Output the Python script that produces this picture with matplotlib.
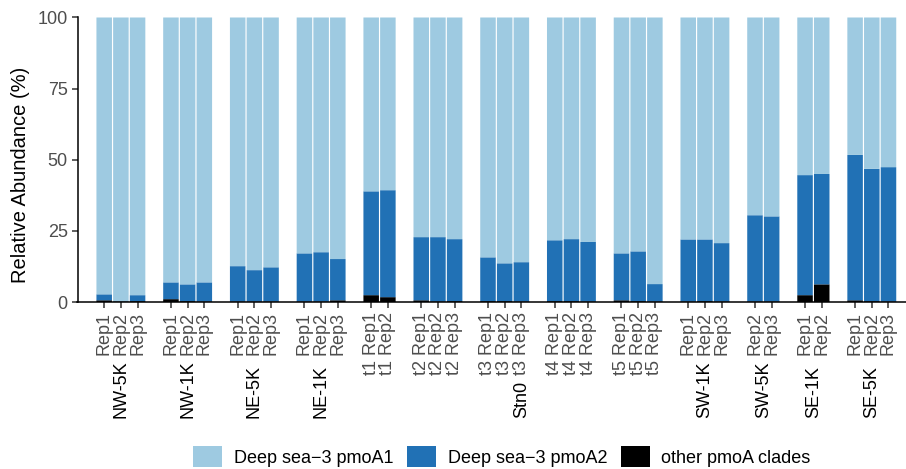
import matplotlib
matplotlib.use("Agg")
import matplotlib.pyplot as plt
from matplotlib.patches import Patch
from matplotlib.transforms import blended_transform_factory
import numpy as np

plt.rcParams['font.family'] = ['Liberation Sans', 'DejaVu Sans']

# ---- data ----
group_names = ["NW-5K", "NW-1K", "NE-5K", "NE-1K", "t1", "t2", "t3", "t4", "t5",
               "SW-1K", "SW-5K", "SE-1K", "SE-5K"]
group_labels = ["NW-5K", "NW-1K", "NE-5K", "NE-1K", "", "", "Stn0", "", "",
                "SW-1K", "SW-5K", "SE-1K", "SE-5K"]
rep_labels = [
    ["Rep1", "Rep2", "Rep3"],
    ["Rep1", "Rep2", "Rep3"],
    ["Rep1", "Rep2", "Rep3"],
    ["Rep1", "Rep2", "Rep3"],
    ["t1 Rep1", "t1 Rep2"],
    ["t2 Rep1", "t2 Rep2", "t2 Rep3"],
    ["t3 Rep1", "t3 Rep2", "t3 Rep3"],
    ["t4 Rep1", "t4 Rep2", "t4 Rep3"],
    ["t5 Rep1", "t5 Rep2", "t5 Rep3"],
    ["Rep1", "Rep2", "Rep3"],
    ["Rep2", "Rep3"],
    ["Rep1", "Rep2"],
    ["Rep1", "Rep2", "Rep3"],
]
other_clades = [
    [0.6, 0.2, 0.3],
    [1.0, 0.3, 0.2],
    [0.2, 0.2, 0.2],
    [0.2, 0.2, 0.6],
    [2.4, 1.7],
    [0.6, 0.2, 0.3],
    [0.3, 0.3, 0.2],
    [0.3, 0.3, 0.2],
    [0.6, 0.3, 0.2],
    [0.2, 0.3, 0.2],
    [0.2, 0.2],
    [2.4, 6.2],
    [0.6, 0.3, 0.2],
]
pmoA2 = [
    [2.1, 0.1, 2.1],
    [5.9, 5.9, 6.7],
    [12.4, 11.0, 12.0],
    [16.9, 17.3, 14.5],
    [36.5, 37.6],
    [22.2, 22.6, 21.8],
    [15.4, 13.3, 13.8],
    [21.4, 21.8, 20.9],
    [16.5, 17.5, 6.1],
    [21.8, 21.7, 20.5],
    [30.3, 29.9],
    [42.2, 38.8],
    [51.1, 46.5, 47.2],
]
series_names = ["Deep sea\u22123 pmoA1", "Deep sea\u22123 pmoA2", "other pmoA clades"]
colors = ["#9ECAE1", "#2171B5", "#000000"]

# ---- positions (one empty slot between groups) ----
positions, labels, oth, a2 = [], [], [], []
group_x = []
x = 0
for gi, reps in enumerate(rep_labels):
    xs = []
    for ri, r in enumerate(reps):
        positions.append(x)
        xs.append(x)
        labels.append(r)
        oth.append(other_clades[gi][ri])
        a2.append(pmoA2[gi][ri])
        x += 1
    group_x.append(xs)
    x += 1
positions = np.array(positions, dtype=float)
oth = np.array(oth)
a2 = np.array(a2)
a1 = 100 - oth - a2

W, H = 906, 469
fig = plt.figure(figsize=(W / 100, H / 100), dpi=100)
ax = fig.add_axes([77.5 / W, 1 - 302 / H, (906 - 77.5) / W, (302 - 17.5) / H])

bw = 0.93
ax.bar(positions, oth, width=bw, color=colors[2], linewidth=0, snap=False)
ax.bar(positions, a2, bottom=oth, width=bw, color=colors[1], linewidth=0, snap=False)
ax.bar(positions, a1, bottom=oth + a2, width=bw, color=colors[0], linewidth=0, snap=False)

ax.set_xlim(-1.6, positions[-1] + 1.05)
ax.set_ylim(0, 100)
ax.set_yticks([0, 25, 50, 75, 100])
ax.set_xticks(positions)
ax.set_xticklabels(labels, rotation=90)

fs = 13
tick_col = "#4D4D4D"
ax.tick_params(axis='x', length=4.3, width=1.1, color="#333333", pad=3.0,
               labelsize=fs, labelcolor=tick_col)
ax.tick_params(axis='y', length=4.0, width=1.1, color="#333333", pad=3.0,
               labelsize=fs, labelcolor=tick_col)
for s in ["top", "right"]:
    ax.spines[s].set_visible(False)
for s in ["left", "bottom"]:
    ax.spines[s].set_linewidth(1.1)
    ax.spines[s].set_color("black")

# group labels
trans = blended_transform_factory(ax.transData, fig.transFigure)
for gi, lab in enumerate(group_labels):
    if not lab:
        continue
    xs = group_x[gi]
    if lab == "Stn0":
        cx = xs[-1]
    else:
        cx = np.mean(xs)
    ax.text(cx, 1 - 418 / H, lab, rotation=90, ha='center', va='bottom',
            fontsize=fs, color='black', transform=trans, clip_on=False)

fig.text(21 / W, 1 - 175 / H, "Relative Abundance (%)", rotation=90,
         ha='center', va='center', fontsize=14.5, color='black')

handles = [Patch(facecolor=c, edgecolor='none') for c in colors]
fig.legend(handles, series_names, ncol=3, loc='center',
           bbox_to_anchor=(502 / W, 1 - 456.5 / H), frameon=False,
           fontsize=fs, handlelength=1.6, handleheight=1.4,
           handletextpad=0.65, columnspacing=0.75, borderpad=0, borderaxespad=0)

fig.savefig("out.png", dpi=100)
